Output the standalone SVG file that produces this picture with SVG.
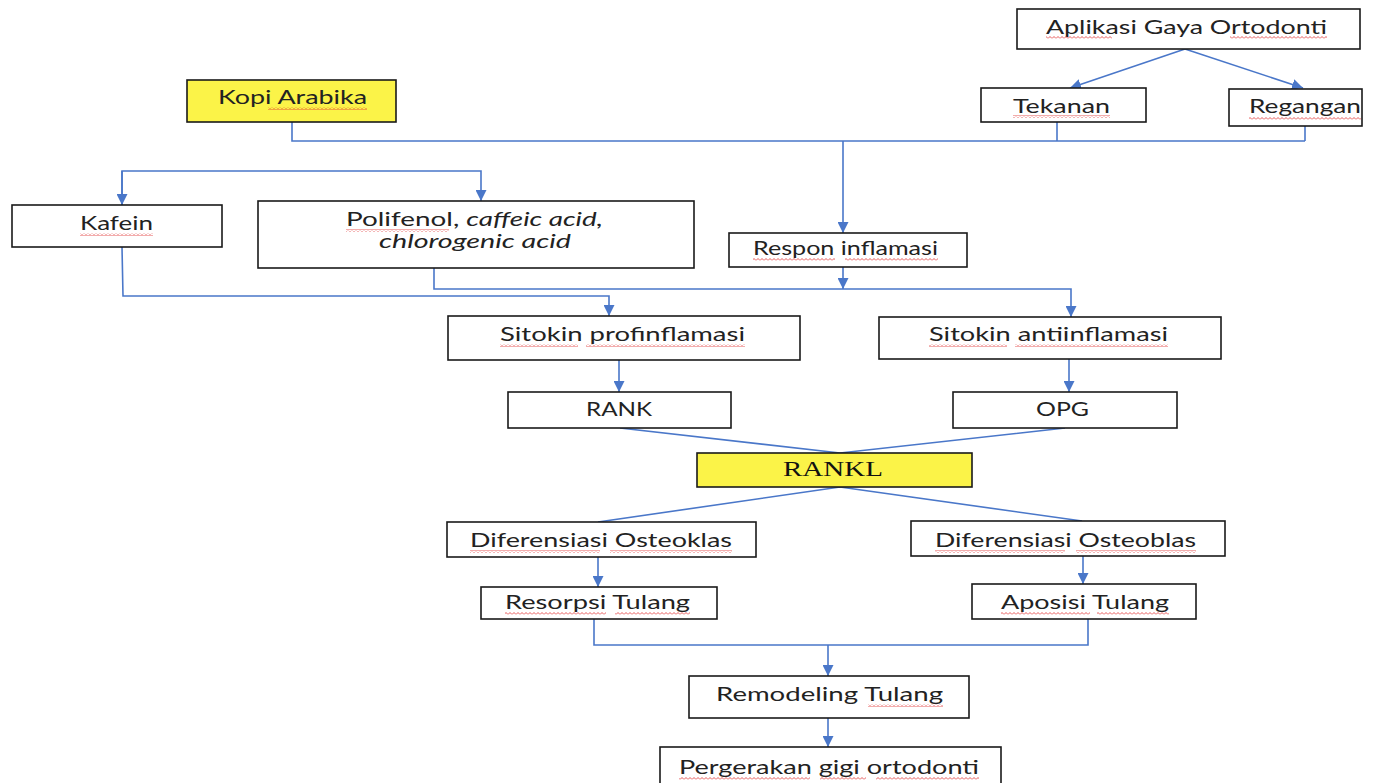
<svg xmlns="http://www.w3.org/2000/svg" width="1377" height="783" viewBox="0 0 1377 783">
<style>
.box{fill:#fff;stroke:#1a1a1a;stroke-width:1.6}
.yel{fill:#fbf348;stroke:#1a1a1a;stroke-width:1.6}
.t{font-family:Lato,"Open Sans","Liberation Sans",sans-serif;font-size:19px;fill:#222;text-anchor:start}
.ser{font-family:"Liberation Serif",serif;font-size:20px;fill:#111}
.c{fill:none;stroke:#4a77c9;stroke-width:1.6}
.sq{fill:url(#squig)}
</style>
<defs>
<marker id="ah" markerUnits="userSpaceOnUse" viewBox="0 0 10 10" refX="10" refY="5" markerWidth="11" markerHeight="11" orient="auto">
<path d="M0,0 L10,5 L0,10 z" fill="#4a77c9"/>
</marker>
<pattern id="squig" patternUnits="userSpaceOnUse" width="4" height="3">
<path d="M0,2.5 L2,0.5 L4,2.5" fill="none" stroke="#e03030" stroke-width="0.8"/>
</pattern>
</defs>

<g id="connectors">
<polyline class="c" points="1185,49 1070,88" marker-end="url(#ah)"/>
<polyline class="c" points="1185,49 1303,88" marker-end="url(#ah)"/>
<polyline class="c" points="1057,122 1057,141"/>
<polyline class="c" points="1305,126 1305,141"/>
<polyline class="c" points="292,122 292,141 1305,141"/>
<polyline class="c" points="843,141 843,233" marker-end="url(#ah)"/>
<polyline class="c" points="122,205 122,171 481,171 481,201" marker-end="url(#ah)"/>
<polyline class="c" points="122,171 122,205" marker-end="url(#ah)"/>
<polyline class="c" points="843,267 843,289" marker-end="url(#ah)"/>
<polyline class="c" points="434,268 434,289 1071,289 1071,317" marker-end="url(#ah)"/>
<polyline class="c" points="122,247 123,296 609,296 609,316" marker-end="url(#ah)"/>
<polyline class="c" points="619,360 619,392" marker-end="url(#ah)"/>
<polyline class="c" points="1069,359 1069,392" marker-end="url(#ah)"/>
<polyline class="c" points="620,428 840,453 1065,428"/>
<polyline class="c" points="598,522 840,487 1082,521"/>
<polyline class="c" points="598,557 598,587" marker-end="url(#ah)"/>
<polyline class="c" points="1083,556 1083,584" marker-end="url(#ah)"/>
<polyline class="c" points="594,619 594,645 1088,645 1088,619"/>
<polyline class="c" points="828,645 828,676" marker-end="url(#ah)"/>
<polyline class="c" points="828,718 828,747" marker-end="url(#ah)"/>
</g>

<g id="aplikasi">
<rect class="box" x="1017" y="9" width="343" height="40"/>
<text class="t" x="1046" y="34" textLength="281" lengthAdjust="spacingAndGlyphs">Aplikasi Gaya Ortodonti</text>
<rect class="sq" x="1046" y="36" width="66" height="3"/><rect class="sq" x="1230" y="36" width="97" height="3"/>
</g>
<g id="tekanan">
<rect class="box" x="981" y="88" width="165" height="34"/>
<text class="t" x="1013" y="113" textLength="97" lengthAdjust="spacingAndGlyphs">Tekanan</text>
<rect class="sq" x="1013" y="115" width="97" height="3"/>
</g>
<g id="regangan">
<rect class="box" x="1229" y="89" width="133" height="37"/>
<text class="t" x="1249" y="113" textLength="112" lengthAdjust="spacingAndGlyphs">Regangan</text>
<rect class="sq" x="1249" y="117" width="112" height="3"/>
</g>
<g id="kopi">
<rect class="yel" x="187" y="80" width="209" height="42"/>
<text class="t" x="218" y="104" textLength="149" lengthAdjust="spacingAndGlyphs">Kopi Arabika</text>
<rect class="sq" x="268" y="107" width="99" height="3"/>
</g>
<g id="kafein">
<rect class="box" x="12" y="205" width="210" height="42"/>
<text class="t" x="80" y="230" textLength="73" lengthAdjust="spacingAndGlyphs">Kafein</text>
<rect class="sq" x="80" y="233" width="73" height="3"/>
</g>
<g id="polifenol">
<rect class="box" x="258" y="201" width="436" height="67"/>
<text class="t" x="346" y="226" textLength="257" lengthAdjust="spacingAndGlyphs">Polifenol, <tspan font-style="italic">caffeic acid,</tspan></text>
<text class="t" x="379" y="248" textLength="192" lengthAdjust="spacingAndGlyphs" font-style="italic">chlorogenic acid</text>
<rect class="sq" x="346" y="229" width="103" height="3"/>
</g>
<g id="respon">
<rect class="box" x="729" y="233" width="238" height="34"/>
<text class="t" x="753" y="255" textLength="185" lengthAdjust="spacingAndGlyphs">Respon inflamasi</text>
<rect class="sq" x="753" y="258" width="82" height="3"/><rect class="sq" x="845" y="258" width="93" height="3"/>
</g>
<g id="pro">
<rect class="box" x="448" y="316" width="352" height="44"/>
<text class="t" x="500" y="341" textLength="245" lengthAdjust="spacingAndGlyphs">Sitokin profinflamasi</text>
<rect class="sq" x="500" y="344" width="78" height="3"/><rect class="sq" x="586" y="344" width="159" height="3"/>
</g>
<g id="anti">
<rect class="box" x="879" y="317" width="342" height="42"/>
<text class="t" x="929" y="341" textLength="239" lengthAdjust="spacingAndGlyphs">Sitokin antiinflamasi</text>
<rect class="sq" x="929" y="344" width="78" height="3"/><rect class="sq" x="1015" y="344" width="153" height="3"/>
</g>
<g id="rank">
<rect class="box" x="508" y="392" width="223" height="36"/>
<text class="t" x="586" y="416" textLength="66" lengthAdjust="spacingAndGlyphs">RANK</text>
</g>
<g id="opg">
<rect class="box" x="953" y="392" width="224" height="36"/>
<text class="t" x="1036" y="416" textLength="53" lengthAdjust="spacingAndGlyphs">OPG</text>
</g>
<g id="rankl">
<rect class="yel" x="697" y="453" width="275" height="34"/>
<text class="ser" x="783" y="476" textLength="100" lengthAdjust="spacingAndGlyphs">RANKL</text>
</g>
<g id="osteoklas">
<rect class="box" x="447" y="522" width="309" height="35"/>
<text class="t" x="470" y="547" textLength="262" lengthAdjust="spacingAndGlyphs">Diferensiasi Osteoklas</text>
<rect class="sq" x="470" y="550" width="130" height="3"/><rect class="sq" x="610" y="550" width="122" height="3"/>
</g>
<g id="osteoblas">
<rect class="box" x="911" y="521" width="314" height="35"/>
<text class="t" x="935" y="547" textLength="261" lengthAdjust="spacingAndGlyphs">Diferensiasi Osteoblas</text>
<rect class="sq" x="935" y="550" width="130" height="3"/><rect class="sq" x="1076" y="550" width="120" height="3"/>
</g>
<g id="resorpsi">
<rect class="box" x="481" y="587" width="236" height="32"/>
<text class="t" x="505" y="609" textLength="185" lengthAdjust="spacingAndGlyphs">Resorpsi Tulang</text>
<rect class="sq" x="505" y="612" width="101" height="3"/><rect class="sq" x="615" y="612" width="75" height="3"/>
</g>
<g id="aposisi">
<rect class="box" x="972" y="584" width="224" height="35"/>
<text class="t" x="1001" y="609" textLength="168" lengthAdjust="spacingAndGlyphs">Aposisi Tulang</text>
<rect class="sq" x="1001" y="612" width="89" height="3"/><rect class="sq" x="1097" y="612" width="72" height="3"/>
</g>
<g id="remodeling">
<rect class="box" x="689" y="676" width="280" height="42"/>
<text class="t" x="716" y="701" textLength="227" lengthAdjust="spacingAndGlyphs">Remodeling Tulang</text>
<rect class="sq" x="868" y="704" width="75" height="3"/>
</g>
<g id="pergerakan">
<rect class="box" x="660" y="747" width="341" height="45"/>
<text class="t" x="679" y="774" textLength="300" lengthAdjust="spacingAndGlyphs">Pergerakan gigi ortodonti</text>
<rect class="sq" x="679" y="777" width="131" height="3"/><rect class="sq" x="820" y="777" width="46" height="3"/><rect class="sq" x="876" y="777" width="103" height="3"/>
</g>
</svg>
